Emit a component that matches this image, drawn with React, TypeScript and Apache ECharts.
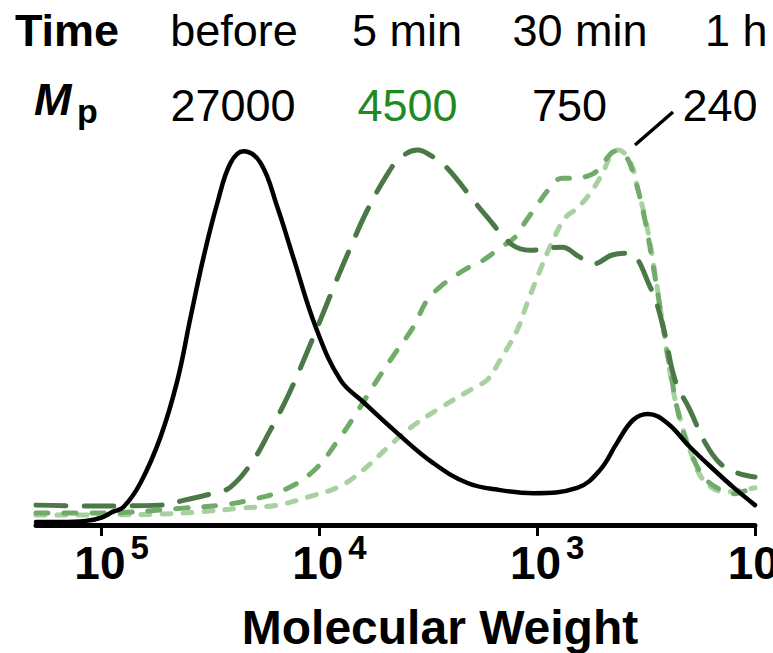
import React, { useEffect, useRef } from "react";
import * as echarts from "echarts";

// Molecular weight (g/mol) and normalized intensity
const beforeMW = [200000, 154000, 118000, 101000, 89000, 79300, 66300, 53600, 44800, 39000, 34000, 29400, 25600, 22300, 18600, 15600, 13200, 10400, 8010, 6290, 4390, 3000, 2090, 1480, 1040, 655, 514, 430, 363, 310, 253, 199, 149, 126, 100];
const beforeI = [0.8, 0.8, 1.1, 1.9, 3.5, 4.8, 11.2, 23.5, 38.7, 55.5, 71.5, 85.9, 96.5, 99.7, 96.5, 84.8, 71.5, 52.8, 38.7, 32.8, 24.5, 16.5, 11.2, 9.3, 8.5, 9.9, 14.7, 21.9, 28.0, 29.6, 27.2, 20.8, 13.9, 10.1, 5.3];

const min5MW = [200000, 124800, 81800, 53600, 41200, 30600, 25600, 20100, 16800, 14600, 12900, 10200, 8630, 7210, 6020, 4830, 4250, 3550, 3000, 2590, 1970, 1730, 1300, 1080, 768, 648, 553, 453, 383, 303, 264, 233, 199, 170, 145, 121, 100];
const min5I = [5.3, 5.1, 5.1, 5.3, 6.7, 8.5, 10.1, 17.3, 25.3, 32.0, 38.7, 52.8, 63.2, 73.9, 84.0, 93.9, 97.9, 100, 98.1, 95.2, 86.7, 82.7, 74.7, 73.3, 74.1, 71.7, 69.6, 72.0, 72.5, 63.5, 52.8, 38.7, 30.7, 22.1, 16.5, 13.9, 12.8];

const min30MW = [200000, 101000, 42070, 28440, 20730, 14600, 10650, 8180, 6620, 5535, 4480, 3705, 3197, 2790, 2428, 2090, 1826, 1480, 1262, 1135, 1000, 890, 768, 698, 583, 525, 477, 439, 395, 355, 320, 294, 267, 245, 221, 195, 170, 143, 126, 111, 100];
const min30I = [3.2, 3.2, 4.5, 5.3, 6.7, 9.3, 14.4, 22.7, 30.7, 37.9, 45.9, 52.8, 60.0, 63.5, 66.1, 68.5, 70.1, 73.9, 76.8, 80.8, 85.3, 89.3, 92.5, 92.5, 93.1, 94.7, 97.9, 99.7, 98.7, 92.0, 81.3, 69.3, 54.7, 41.3, 28.0, 18.7, 12.5, 9.3, 8.3, 9.1, 9.6];

const hour1MW = [200000, 101000, 53600, 35100, 23000, 15600, 11230, 8010, 6290, 4830, 3830, 2790, 1925, 1695, 1480, 1235, 1111, 969, 845, 744, 655, 571, 498, 463, 425, 374, 344, 313, 288, 264, 240, 221, 199, 179, 157, 137, 117, 100];
const hour1I = [2.7, 2.7, 2.9, 3.5, 4.5, 5.3, 7.5, 10.4, 14.7, 20.8, 25.9, 31.2, 36.8, 38.7, 44.0, 52.0, 59.2, 68.0, 76.0, 81.9, 84.5, 88.5, 94.1, 98.1, 100, 96.8, 89.3, 79.5, 67.2, 52.8, 37.3, 28.5, 20.0, 13.3, 9.9, 8.8, 9.3, 9.9];

const tickValues = [100000, 10000, 1000, 100];
const tickExponents = ["5", "4", "3", "2"];
const timeLabels = ["before", "5 min", "30 min", "1 h"];
const mpLabels = ["27000", "4500", "750", "240"];

const FONT = "'Liberation Sans', Arial, Helvetica, sans-serif";

const pair = (xs: number[], ys: number[]) => xs.map((x, i) => [x, ys[i]]);

export default function App() {
  const ref = useRef<HTMLDivElement>(null);
  useEffect(() => {
    if (!ref.current) return;
    const chart = echarts.init(ref.current, null, { renderer: "svg" });
    const txt = (text: string, x: number, y: number, opts: any = {}) => ({
      type: "text",
      x,
      y,
      style: {
        text,
        fill: opts.fill || "#000",
        fontSize: opts.fontSize || 45,
        fontFamily: FONT,
        fontWeight: opts.fontWeight || "normal",
        fontStyle: opts.fontStyle || "normal",
        align: opts.align || "center",
        textAlign: opts.align || "center",
        verticalAlign: "middle",
        textVerticalAlign: "middle",
      },
    });
    const timeX = [234, 407, 580, 705];
    const mpX = [233, 407.5, 569.5, 720];
    const graphics: any[] = [
      txt("Time", 67, 30, { fontWeight: "bold" }),
      ...timeLabels.map((t, i) => txt(t, timeX[i], 30, { align: i === 3 ? "left" : "center" })),
      txt("M", 34, 99, { fontWeight: "bold", fontStyle: "italic", align: "left" }),
      txt("p", 77, 111, { fontWeight: "bold", fontSize: 34, align: "left" }),
      ...mpLabels.map((t, i) => txt(t, mpX[i], 105, { fill: i === 1 ? "#1f8a1f" : "#000" })),
      {
        type: "line",
        shape: { x1: 635, y1: 145, x2: 673, y2: 112 },
        style: { stroke: "#000", lineWidth: 3.5 },
      },
    ];
    const lineSeries = (name: string, data: number[][], color: string, dash: any, width: number) => ({
      name,
      type: "line",
      data,
      smooth: 0.4,
      symbol: "none",
      clip: false,
      lineStyle: { color, width, type: dash, cap: "round" },
    });
    chart.setOption({
      animation: false,
      grid: { left: 36, right: 18, top: 150, bottom: 128, containLabel: false, outerBoundsMode: "none" },
      xAxis: {
        type: "log",
        logBase: 10,
        inverse: true,
        min: 100,
        max: 200000,
        splitLine: { show: false },
        minorTick: { show: false },
        axisLine: { show: true, lineStyle: { color: "#000", width: 5 } },
        axisTick: { show: true, customValues: tickValues, length: 11, lineStyle: { color: "#000", width: 3 } },
        axisLabel: {
          customValues: tickValues,
          margin: 6,
          padding: [0, 0, 0, 20],
          hideOverlap: false,
          formatter: (v: number) => {
            const i = tickValues.findIndex((t) => Math.abs(Math.log10(t) - Math.log10(v)) < 0.01);
            return `{b|10}{s|${i >= 0 ? tickExponents[i] : ""}}`;
          },
          rich: {
            b: { fontSize: 46, fontWeight: "bold", fontFamily: FONT, color: "#000", lineHeight: 64, verticalAlign: "middle" },
            s: { fontSize: 33, fontWeight: "bold", fontFamily: FONT, color: "#000", lineHeight: 33, verticalAlign: "top", padding: [0, 0, 0, 5] },
          },
        },
        name: "Molecular Weight",
        nameLocation: "middle",
        nameGap: 78,
        nameTextStyle: { fontSize: 48, fontWeight: "bold", fontFamily: FONT, color: "#000", padding: [0, 0, 0, 89] },
      },
      yAxis: { type: "value", min: 0, max: 100, show: false },
      graphic: graphics,
      series: [
        lineSeries("1 h", pair(hour1MW, hour1I), "#a8d0a1", [9, 12], 5),
        lineSeries("30 min", pair(min30MW, min30I), "#70ab69", [12, 16], 5),
        lineSeries("5 min", pair(min5MW, min5I), "#4a7846", [30, 18], 5),
        lineSeries("before", pair(beforeMW, beforeI), "#000000", "solid", 4.5),
      ],
    });
    return () => chart.dispose();
  }, []);
  return <div ref={ref} style={{ width: 773, height: 653, position: "absolute", left: 0, top: 0 }} />;
}
